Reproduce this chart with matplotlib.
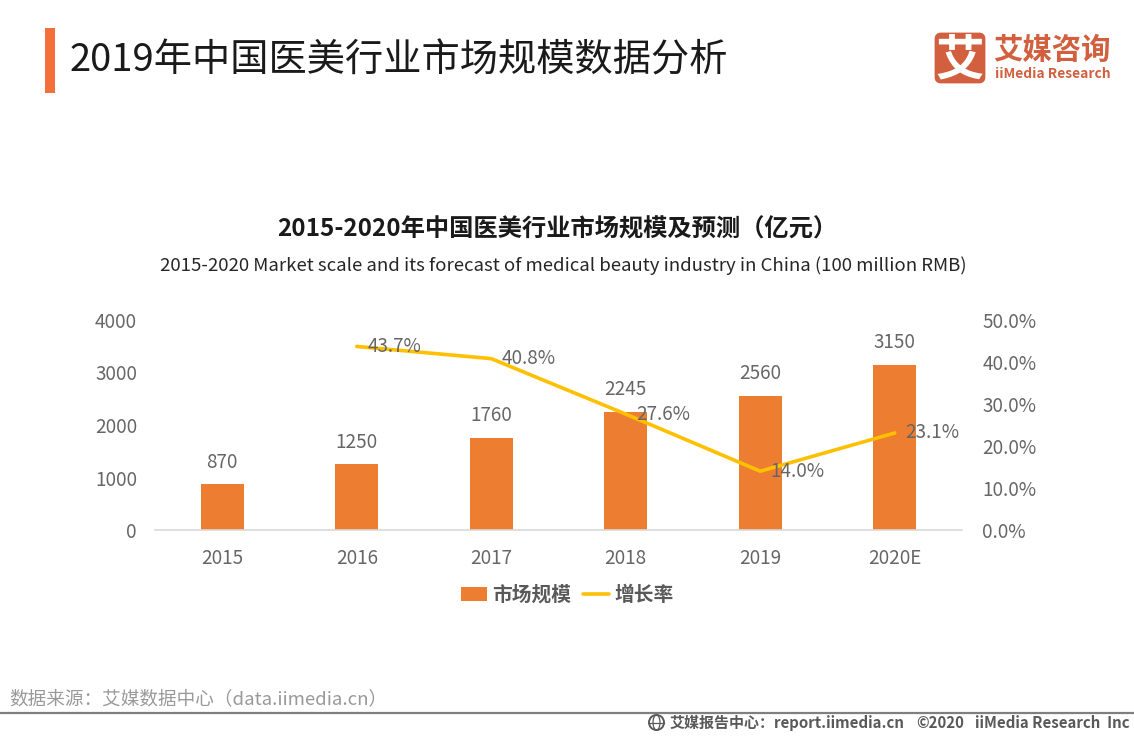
# -*- coding: utf-8 -*-
import matplotlib
matplotlib.use('Agg')
import matplotlib.pyplot as plt
from matplotlib.patches import FancyBboxPatch, Rectangle, Circle, Ellipse

plt.rcParams['font.family'] = ['Noto Sans CJK SC', 'DejaVu Sans']

# Data
years = ['2015', '2016', '2017', '2018', '2019', '2020E']
market_size = [870, 1250, 1760, 2245, 2560, 3150]
growth_years = ['2016', '2017', '2018', '2019', '2020E']
growth_rate = [43.7, 40.8, 27.6, 14.0, 23.1]
left_ticks = [0, 1000, 2000, 3000, 4000]
right_ticks = [0, 10, 20, 30, 40, 50]

W, H = 1134, 737
text_grey = '#666666'
logo_red = '#D2603F'

fig = plt.figure(figsize=(W / 100, H / 100), dpi=100)

# overlay in pixel coordinates for header and footer
bg = fig.add_axes([0, 0, 1, 1])
bg.set_xlim(0, W)
bg.set_ylim(H, 0)
bg.axis('off')

bg.add_patch(Rectangle((45, 28), 10, 65, color='#F4703A', lw=0))
bg.text(70, 60.5, '2019年中国医美行业市场规模数据分析', fontsize=27.5, color='#1a1a1a', va='center', ha='left')

# logo
bg.add_patch(FancyBboxPatch((936, 34), 48, 48, boxstyle='round,pad=0,rounding_size=5', fc=logo_red, ec=logo_red, lw=2))
bg.text(960, 60, '艾', fontsize=35, color='white', ha='center', va='center', fontweight='bold')
bg.text(993, 50, '艾媒咨询', fontsize=21.2, color=logo_red, ha='left', va='center', fontweight='bold')
bg.text(995, 74, 'iiMedia Research', fontsize=9.95, color=logo_red, ha='left', va='center', fontweight='bold')

# chart titles
bg.text(557, 229, '2015-2020年中国医美行业市场规模及预测（亿元）', fontsize=17.5, color='#1a1a1a', ha='center', va='center', fontweight='bold')
bg.text(563.5, 266, '2015-2020 Market scale and its forecast of medical beauty industry in China (100 million RMB)',
        fontsize=13.4, color='#262626', ha='center', va='center')

# footer
bg.text(9, 699.5, '数据来源：艾媒数据中心（data.iimedia.cn）', fontsize=13.4, color='#999999', ha='left', va='center')
bg.plot([0, W], [712.5, 712.5], color='#7f7f7f', lw=1.6, solid_capstyle='butt')
bg.add_patch(Circle((656.5, 722.5), 7.5, fc='none', ec='#595959', lw=1.4))
bg.add_patch(Ellipse((656.5, 722.5), 7, 15, fc='none', ec='#595959', lw=0.9))
bg.plot([649, 664], [722.5, 722.5], color='#595959', lw=0.9)
bg.text(670, 722.5, '艾媒报告中心：report.iimedia.cn', fontsize=10.8, color='#595959', ha='left', va='center', fontweight='bold')
bg.text(916, 722.5, '©2020', fontsize=10.8, color='#595959', ha='left', va='center', fontweight='bold')
bg.text(975, 722.5, 'iiMedia Research  Inc', fontsize=10.8, color='#595959', ha='left', va='center', fontweight='bold')

# main chart
ax = fig.add_axes([155 / W, 1 - 530 / H, (962 - 155) / W, (530 - 320) / H])
x = list(range(len(years)))
bars = ax.bar(x, market_size, width=0.32, color='#ED7D31', label='市场规模', zorder=2)
ax.set_xlim(-0.5, 5.5)
ax.set_ylim(0, 4000)
ax.set_xticks(x)
ax.set_xticklabels(years)
ax.set_yticks(left_ticks)
for s in ['top', 'left', 'right']:
    ax.spines[s].set_visible(False)
ax.spines['bottom'].set_color('#D9D9D9')
ax.spines['bottom'].set_linewidth(1.2)
ax.tick_params(axis='x', length=0, pad=13, labelsize=13.6, labelcolor=text_grey)
ax.tick_params(axis='y', length=0, pad=13, labelsize=13.6, labelcolor=text_grey)

for xi, v in zip(x, market_size):
    ax.annotate(str(v), (xi, v), xytext=(0, 8.5), textcoords='offset points', ha='center', va='bottom',
                fontsize=13.6, color=text_grey)

ax2 = ax.twinx()
gx = [years.index(y) for y in growth_years]
line, = ax2.plot(gx, growth_rate, color='#FFC000', lw=2.6, label='增长率', zorder=3, solid_capstyle='round')
ax2.set_ylim(0, 50)
ax2.set_yticks(right_ticks)
ax2.set_yticklabels(['%.1f%%' % t for t in right_ticks])
for s in ['top', 'left', 'right', 'bottom']:
    ax2.spines[s].set_visible(False)
ax2.tick_params(axis='y', length=0, pad=14.5, labelsize=13.6, labelcolor=text_grey)
for xi, v in zip(gx, growth_rate):
    ax2.annotate('%.1f%%' % v, (xi, v), xytext=(7.5, 0), textcoords='offset points', ha='left', va='center',
                 fontsize=13.6, color=text_grey)

leg = ax.legend([bars, line], ['市场规模', '增长率'], loc='upper center', bbox_to_anchor=(0.511, -0.216), ncol=2,
                frameon=False, prop={'size': 14.2, 'weight': 'bold'}, handlelength=1.32, handleheight=0.7,
                handletextpad=0.25, columnspacing=0.6, labelcolor='#595959', borderpad=0)

fig.savefig('out.png', dpi=100)
